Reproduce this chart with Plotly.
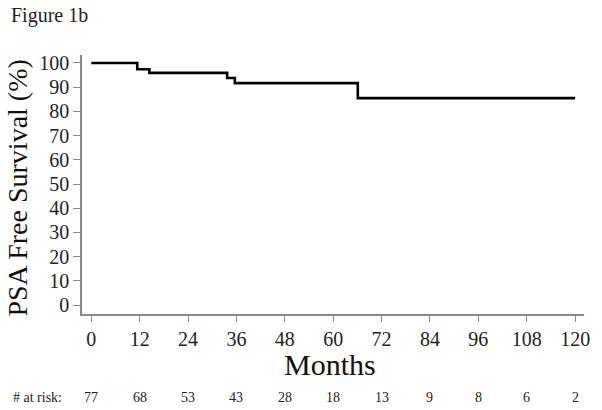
import plotly.graph_objects as go

# Kaplan-Meier step data (months, % PSA free survival)
months = [0, 11.4, 14.4, 33.7, 35.6, 66.1, 120]
survival = [100, 97.4, 95.9, 93.8, 91.7, 85.5, 85.5]

x_ticks = [0, 12, 24, 36, 48, 60, 72, 84, 96, 108, 120]
y_ticks = [0, 10, 20, 30, 40, 50, 60, 70, 80, 90, 100]
at_risk = [77, 68, 53, 43, 28, 18, 13, 9, 8, 6, 2]

FONT = "Liberation Serif, Times New Roman, serif"

fig = go.Figure()
fig.add_trace(go.Scatter(
    x=months, y=survival, mode="lines", line_shape="hv",
    line=dict(color="black", width=2.6), hoverinfo="skip", showlegend=False,
))

annotations = [
    dict(text="Figure 1b", xref="paper", yref="paper", x=-0.146, y=1.154,
         xanchor="left", yanchor="middle", showarrow=False,
         font=dict(family=FONT, size=20, color="#222")),
    dict(text="PSA Free Survival (%)", xref="paper", yref="paper", x=-0.128, y=0.487,
         xanchor="center", yanchor="middle", textangle=-90, showarrow=False,
         font=dict(family=FONT, size=28, color="#111")),
    dict(text="Months", xref="paper", yref="paper", x=0.495, y=-0.196,
         xanchor="center", yanchor="middle", showarrow=False,
         font=dict(family=FONT, size=30, color="#111")),
    dict(text="# at risk:", xref="paper", yref="paper", x=-0.142, y=-0.322,
         xanchor="left", yanchor="middle", showarrow=False,
         font=dict(family=FONT, size=14, color="#222")),
]
for m, n in zip(x_ticks, at_risk):
    annotations.append(dict(text=str(n), xref="x", yref="paper", x=m, y=-0.322,
                            xanchor="center", yanchor="middle", showarrow=False,
                            font=dict(family=FONT, size=14, color="#222")))

fig.update_layout(
    width=602, height=410,
    margin=dict(l=82, r=14, t=55, b=96),
    paper_bgcolor="white", plot_bgcolor="white",
    font=dict(family=FONT, color="#222"),
    annotations=annotations,
    xaxis=dict(range=[-2.3, 122.2], tickvals=x_ticks, showgrid=False, zeroline=False,
               showline=True, linecolor="#8a8a8a", linewidth=1.5,
               ticks="outside", ticklen=6, tickcolor="#8a8a8a", tickwidth=1.2,
               tickfont=dict(family=FONT, size=20, color="#222")),
    yaxis=dict(range=[-3.7, 103.3], tickvals=y_ticks, showgrid=False, zeroline=False,
               showline=True, linecolor="#8a8a8a", linewidth=1.5,
               ticks="outside", ticklen=7, tickcolor="#8a8a8a", tickwidth=1.2,
               tickfont=dict(family=FONT, size=20, color="#222")),
)

fig.write_html("out.html", config={"displayModeBar": False},
               post_script="document.body.style.margin='0';document.body.style.overflow='hidden';")
